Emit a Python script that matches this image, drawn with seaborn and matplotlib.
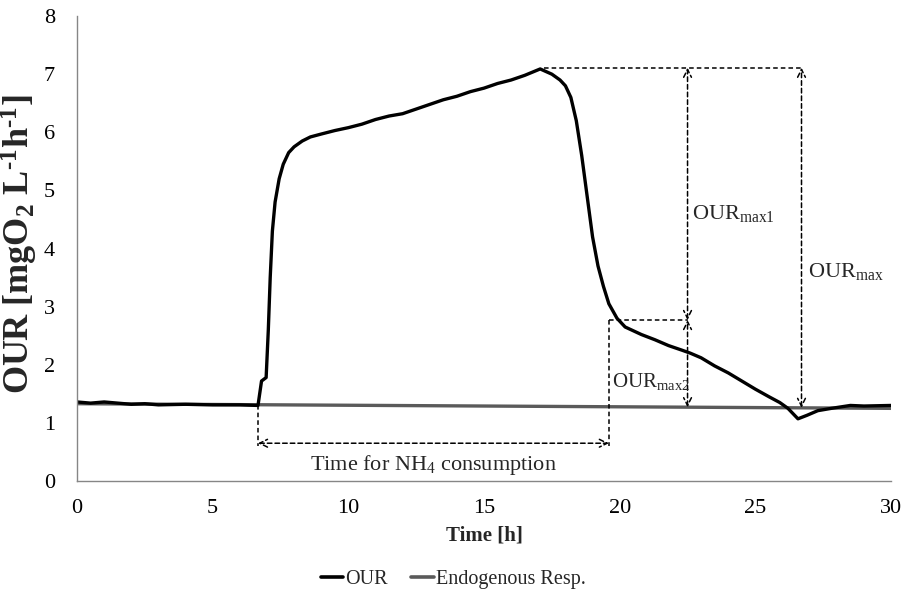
import numpy as np
import pandas as pd
import matplotlib
matplotlib.use("Agg")
import matplotlib.pyplot as plt
import seaborn as sns
from matplotlib.lines import Line2D

# ---------------- data ----------------
time_our = [0, 0.5, 1, 1.5, 2, 2.5, 3, 4, 5, 6, 6.67, 6.8, 6.97, 7.05, 7.12, 7.2, 7.3, 7.45,
            7.6, 7.8, 8.0, 8.3, 8.6, 9.0, 9.5, 10, 10.5, 11, 11.5, 12, 12.5, 13, 13.5, 14,
            14.5, 15, 15.5, 16, 16.5, 17.07, 17.5, 17.8, 18.0, 18.2, 18.4, 18.6, 18.8, 19.0,
            19.2, 19.4, 19.6, 19.9, 20.2, 20.8, 21.3, 21.8, 22.3, 22.6, 23.0, 23.5, 24.0,
            24.5, 25.0, 25.5, 25.9, 26.2, 26.57, 26.9, 27.3, 27.8, 28.5, 29.0, 30.0]
our = [1.36, 1.34, 1.36, 1.34, 1.32, 1.33, 1.31, 1.32, 1.31, 1.31, 1.30, 1.72, 1.78, 2.6,
       3.5, 4.3, 4.8, 5.2, 5.45, 5.65, 5.75, 5.85, 5.92, 5.97, 6.03, 6.08, 6.14, 6.22, 6.28,
       6.32, 6.40, 6.48, 6.56, 6.62, 6.70, 6.76, 6.84, 6.90, 6.98, 7.09, 7.00, 6.90, 6.80,
       6.60, 6.20, 5.60, 4.90, 4.20, 3.70, 3.35, 3.05, 2.80, 2.65, 2.52, 2.43, 2.33, 2.25,
       2.20, 2.12, 1.98, 1.86, 1.72, 1.58, 1.45, 1.35, 1.25, 1.07, 1.13, 1.21, 1.25, 1.30,
       1.29, 1.30]
time_endo = [0, 30]
endo = [1.33, 1.25]

series_names = ["OUR", "Endogenous Resp."]
x_ticks = [0, 5, 10, 15, 20, 25, 30]
y_ticks = [0, 1, 2, 3, 4, 5, 6, 7, 8]

# annotation anchor values
t_nh4_start = 6.67
t_nh4_end = 19.6
our_knee = 2.77
t_arrow1 = 22.5
t_arrow2 = 26.7
y_time_arrow = 0.65

df = pd.concat([
    pd.DataFrame({"Time": time_endo, "Value": endo, "Series": series_names[1]}),
    pd.DataFrame({"Time": time_our, "Value": our, "Series": series_names[0]}),
])

# ---------------- style ----------------
sns.set_theme(style="white")
plt.rcParams["font.family"] = ["Liberation Serif", "DejaVu Serif"]
plt.rcParams["mathtext.fontset"] = "custom"
plt.rcParams["mathtext.rm"] = "Liberation Serif"
plt.rcParams["mathtext.it"] = "Liberation Serif:italic"
plt.rcParams["mathtext.bf"] = "Liberation Serif:bold"

fig = plt.figure(figsize=(9.06, 5.95), dpi=100)
ax = fig.add_axes([0.085, 0.1916, 0.8985, 0.7814])

colors = {"OUR": "#000000", "Endogenous Resp.": "#5a5a5a"}
sns.lineplot(data=df, x="Time", y="Value", hue="Series",
             hue_order=[series_names[1], series_names[0]],
             palette=colors, linewidth=2.4, ax=ax, legend=False,
             estimator=None, sort=False)

ax.set_xlim(0, 30)
ax.set_ylim(0, 8)
ax.set_xticks(x_ticks)
ax.set_yticks(y_ticks)
ax.tick_params(axis="both", labelsize=16, labelcolor="#000000", length=6, width=1,
               direction="out", color="#868686")
ax.tick_params(axis="x", pad=7)
ax.tick_params(axis="y", pad=10)
for s in ["top", "right"]:
    ax.spines[s].set_visible(False)
for s in ["left", "bottom"]:
    ax.spines[s].set_color("#868686")
    ax.spines[s].set_linewidth(1)

ax.set_xlabel("Time [h]", fontsize=15, fontweight="bold")
ax.xaxis.set_label_coords(0.5, -0.095)
ax.set_ylabel("OUR [mgO$_\\mathbf{2}$ L$^\\mathbf{\u20101}$h$^\\mathbf{\u20101}$]",
              fontsize=26, fontweight="bold")
ax.yaxis.set_label_coords(-0.046, 0.51)

# ---------------- annotations ----------------
peak_idx = int(np.argmax(our))
t_peak, v_peak = time_our[peak_idx], our[peak_idx]
endo_at = lambda t: float(np.interp(t, time_endo, endo))
dash = (0, (3, 2))
kw_line = dict(color="black", lw=1.1, linestyle=dash)

def arrow(x0, y0, x1, y1, style):
    ax.annotate("", xy=(x1, y1), xytext=(x0, y0),
                arrowprops=dict(arrowstyle=style, color="black", lw=1.1, linestyle=dash,
                                shrinkA=0, shrinkB=0, mutation_scale=14))

top = v_peak + 0.02
ax.plot([t_peak + 0.15, t_arrow2], [top, top], **kw_line)
arrow(t_arrow1, our_knee, t_arrow1, top, "<->")
arrow(t_arrow1, endo_at(t_arrow1), t_arrow1, our_knee, "<->")
arrow(t_arrow2, endo_at(t_arrow2), t_arrow2, top, "<->")
ax.plot([t_nh4_end, t_arrow1], [our_knee, our_knee], **kw_line)
ax.plot([t_nh4_end, t_nh4_end], [our_knee, y_time_arrow - 0.05], **kw_line)
ax.plot([t_nh4_start, t_nh4_start], [endo_at(t_nh4_start), y_time_arrow - 0.05], **kw_line)
arrow(t_nh4_start, y_time_arrow, t_nh4_end, y_time_arrow, "<->")

ax.text(22.68, 4.6, r"OUR$_{\mathrm{max1}}$", fontsize=16, va="center", ha="left")
ax.text(26.95, 3.6, r"OUR$_{\mathrm{max}}$", fontsize=16, va="center", ha="left")
ax.text(19.7, 1.72, r"OUR$_{\mathrm{max2}}$", fontsize=15, va="center", ha="left")
ax.text((t_nh4_start + t_nh4_end) / 2, 0.27, r"Time for NH$_4$ consumption",
        fontsize=16, va="center", ha="center")

# ---------------- legend ----------------
handles = [Line2D([], [], color=colors[n], lw=2.6) for n in series_names]
fig.legend(handles, series_names, loc="center", bbox_to_anchor=(0.5, 16 / 595), ncol=2,
           frameon=False, fontsize=14.5, handlelength=1.1, handletextpad=0.1,
           columnspacing=1.2)

fig.savefig("out.png", dpi=100)
